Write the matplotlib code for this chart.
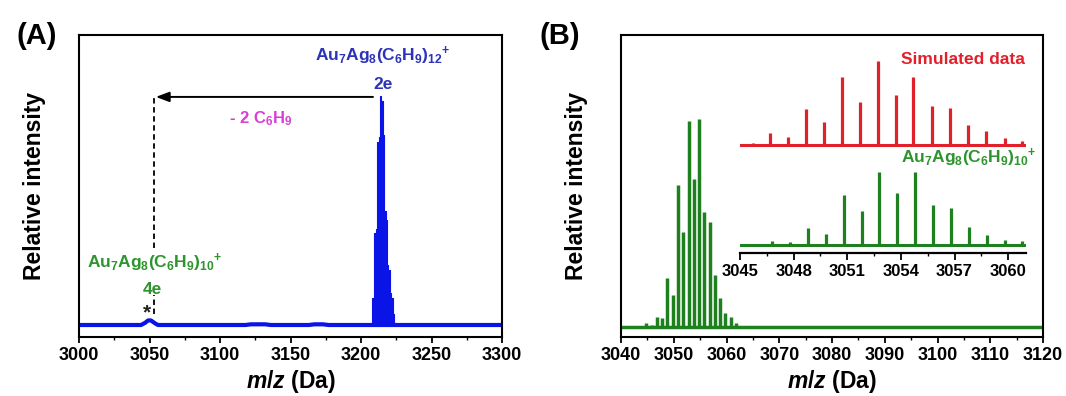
import matplotlib
matplotlib.use('Agg')
import matplotlib.pyplot as plt
from matplotlib.ticker import MultipleLocator

plt.rcParams['font.family'] = ['Liberation Sans', 'DejaVu Sans']
plt.rcParams['font.weight'] = 'bold'
plt.rcParams['mathtext.fontset'] = 'custom'
plt.rcParams['mathtext.rm'] = 'Liberation Sans:bold'
plt.rcParams['mathtext.it'] = 'Liberation Sans:italic:bold'
plt.rcParams['mathtext.bf'] = 'Liberation Sans:bold'
plt.rcParams['axes.linewidth'] = 1.5

# ---------------- Data ----------------
# Panel A: Au7Ag8(C6H9)12+ isotope envelope
a_iso_mz = [3207, 3208, 3209, 3210, 3211, 3212, 3213, 3214, 3215, 3216, 3217, 3218,
            3219, 3220, 3221, 3222, 3223, 3224]
a_iso_int = [0.0, 0.12, 0.12, 0.40, 0.42, 0.80, 0.82, 1.00, 0.98, 0.83, 0.50, 0.46,
             0.26, 0.24, 0.14, 0.12, 0.05, 0.0]
# Panel A baseline trace (small bumps)
a_base_mz = [3000, 3044, 3047, 3049, 3051, 3054, 3056, 3118, 3122, 3132, 3136,
             3163, 3167, 3173, 3177, 3300]
a_base_int = [0, 0, 0.010, 0.020, 0.020, 0.007, 0, 0, 0.003, 0.003, 0,
              0, 0.003, 0.003, 0, 0]

# Panel B: experimental Au7Ag8(C6H9)10+ isotope peaks
b_mz = [3044.7, 3045.8, 3046.8, 3047.8, 3048.8, 3049.8, 3050.8, 3051.8, 3052.8,
        3053.8, 3054.8, 3055.8, 3056.8, 3057.8, 3058.8, 3059.8, 3060.8, 3061.8]
b_int = [0.02, 0.01, 0.048, 0.040, 0.233, 0.153, 0.683, 0.458, 0.993, 0.712,
         1.000, 0.552, 0.506, 0.249, 0.137, 0.065, 0.048, 0.016]

# Inset: simulated isotope pattern
sim_mz = [3045.7, 3046.7, 3047.7, 3048.7, 3049.7, 3050.7, 3051.7, 3052.7,
          3053.7, 3054.7, 3055.75, 3056.75, 3057.75, 3058.75, 3059.8, 3060.8]
sim_int = [0.023, 0.137, 0.098, 0.422, 0.273, 0.805, 0.508, 1.000, 0.590,
           0.805, 0.461, 0.441, 0.238, 0.168, 0.082, 0.043]

a_xticks = [3000, 3050, 3100, 3150, 3200, 3250, 3300]
b_xticks = [3040, 3050, 3060, 3070, 3080, 3090, 3100, 3110, 3120]
i_xticks = [3045, 3048, 3051, 3054, 3057, 3060]

# ---------------- Colors ----------------
blue = '#0a14e6'
blue_txt = '#2d33b8'
green = '#1f801f'
green_txt = '#2e942e'
red = '#e0202a'
magenta = '#d93fd6'

W, H = 1066, 396
fig = plt.figure(figsize=(W / 100, H / 100), dpi=100)

axA = fig.add_axes([79 / W, 59 / H, 423 / W, 302 / H])
axB = fig.add_axes([621 / W, 59 / H, 422 / W, 302 / H])
axI = fig.add_axes([740 / W, (H - 253.3) / H, 286 / W, 198.3 / H])
axI.set_facecolor('none')

tick_fs = 13
label_fs = 16.5

# ---------------- Panel A ----------------
axA.plot(a_base_mz, a_base_int, color=blue, lw=3, solid_capstyle='butt')
axA.fill_between(a_iso_mz, 0, a_iso_int, step='mid', color=blue, lw=0.8,
                 edgecolor=blue)
axA.set_xlim(3000, 3300)
axA.set_ylim(-0.0524, 1.2664)
axA.set_yticks([])
axA.set_xticks(a_xticks)
axA.xaxis.set_minor_locator(MultipleLocator(25))
axA.tick_params(axis='x', which='major', direction='out', length=4, width=1.3,
                labelsize=tick_fs, pad=3)
axA.tick_params(axis='x', which='minor', direction='out', length=2.5, width=1.0)
for lab in axA.get_xticklabels():
    lab.set_fontweight('bold')
axA.set_xlabel('$m/z$ (Da)', fontsize=label_fs, fontweight='bold', labelpad=3)
axA.set_ylabel('Relative intensity', fontsize=label_fs, fontweight='bold', labelpad=24)

# annotations A
axA.vlines(3053, 0.336, 0.996, colors='black', linestyles=(0, (3, 2)), lw=1.3)
axA.vlines(3053, 0.05, 0.13, colors='black', linestyles=(0, (3, 2)), lw=1.3)
axA.annotate('', xy=(3054.5, 0.996), xytext=(3208.5, 0.996),
             arrowprops=dict(arrowstyle='-|>,head_length=0.8,head_width=0.3',
                             color='black', lw=1.4, shrinkA=0, shrinkB=0))
axA.text(3128.6, 0.90, r'- 2 C$_6$H$_9$', color=magenta, fontsize=12,
         fontweight='bold', ha='center', va='center')
axA.text(3215.2, 1.175, r'Au$_7$Ag$_8$(C$_6$H$_9$)$_{12}$$^{+}$', color=blue_txt,
         fontsize=12.5, fontweight='bold', ha='center', va='center')
axA.text(3216, 1.052, '2e', color=blue_txt, fontsize=12.5, fontweight='bold',
         ha='center', va='center')
axA.text(3053.9, 0.271, r'Au$_7$Ag$_8$(C$_6$H$_9$)$_{10}$$^{+}$', color=green_txt,
         fontsize=12.5, fontweight='bold', ha='center', va='center')
axA.text(3051.8, 0.153, '4e', color=green_txt, fontsize=12.5, fontweight='bold',
         ha='center', va='center')
axA.text(3048, 0.055, '*', color='#222222', fontsize=15, fontweight='bold',
         ha='center', va='center')

# ---------------- Panel B ----------------
axB.axhline(0, color=green, lw=2.5)
axB.vlines(b_mz, 0, b_int, color=green, lw=2.5)
axB.set_xlim(3040, 3120)
axB.set_ylim(-0.0497, 1.406)
axB.set_yticks([])
axB.set_xticks(b_xticks)
axB.xaxis.set_minor_locator(MultipleLocator(5))
axB.tick_params(axis='x', which='major', direction='out', length=4, width=1.3,
                labelsize=tick_fs, pad=3)
axB.tick_params(axis='x', which='minor', direction='out', length=2.5, width=1.0)
for lab in axB.get_xticklabels():
    lab.set_fontweight('bold')
axB.set_xlabel('$m/z$ (Da)', fontsize=label_fs, fontweight='bold', labelpad=3)
axB.set_ylabel('Relative intensity', fontsize=label_fs, fontweight='bold', labelpad=24)

# ---------------- Inset ----------------
red_off, red_scale = 1.364, 1.15
axI.axhline(0, color=green, lw=2.2)
axI.vlines(b_mz, 0, b_int, color=green, lw=2.3)
axI.axhline(red_off, color=red, lw=2.2)
axI.vlines(sim_mz, red_off, [red_off + red_scale * v for v in sim_int], color=red, lw=2.3)
axI.set_xlim(3045, 3061)
axI.set_ylim(-0.113, 2.59)
axI.set_yticks([])
for s in ['top', 'right', 'left']:
    axI.spines[s].set_visible(False)
axI.spines['bottom'].set_linewidth(1.6)
axI.set_xticks(i_xticks)
axI.xaxis.set_minor_locator(MultipleLocator(1.5))
axI.tick_params(axis='x', which='major', direction='out', length=5, width=1.3,
                labelsize=12, pad=3)
axI.tick_params(axis='x', which='minor', direction='out', length=2.5, width=1.0)
for lab in axI.get_xticklabels():
    lab.set_fontweight('bold')
axI.text(1025 / W, (H - 60) / H, 'Simulated data', transform=fig.transFigure,
         color=red, fontsize=12.5, fontweight='bold', ha='right', va='center')
axI.text(1036 / W, (H - 158) / H, r'Au$_7$Ag$_8$(C$_6$H$_9$)$_{10}$$^{+}$',
         transform=fig.transFigure, color=green_txt, fontsize=12.5,
         fontweight='bold', ha='right', va='center')

# ---------------- Panel labels ----------------
fig.text(37 / W, (H - 36) / H, '(A)', fontsize=21, fontweight='bold',
         ha='center', va='center')
fig.text(560 / W, (H - 36) / H, '(B)', fontsize=21, fontweight='bold',
         ha='center', va='center')

fig.savefig('out.png', dpi=100)
